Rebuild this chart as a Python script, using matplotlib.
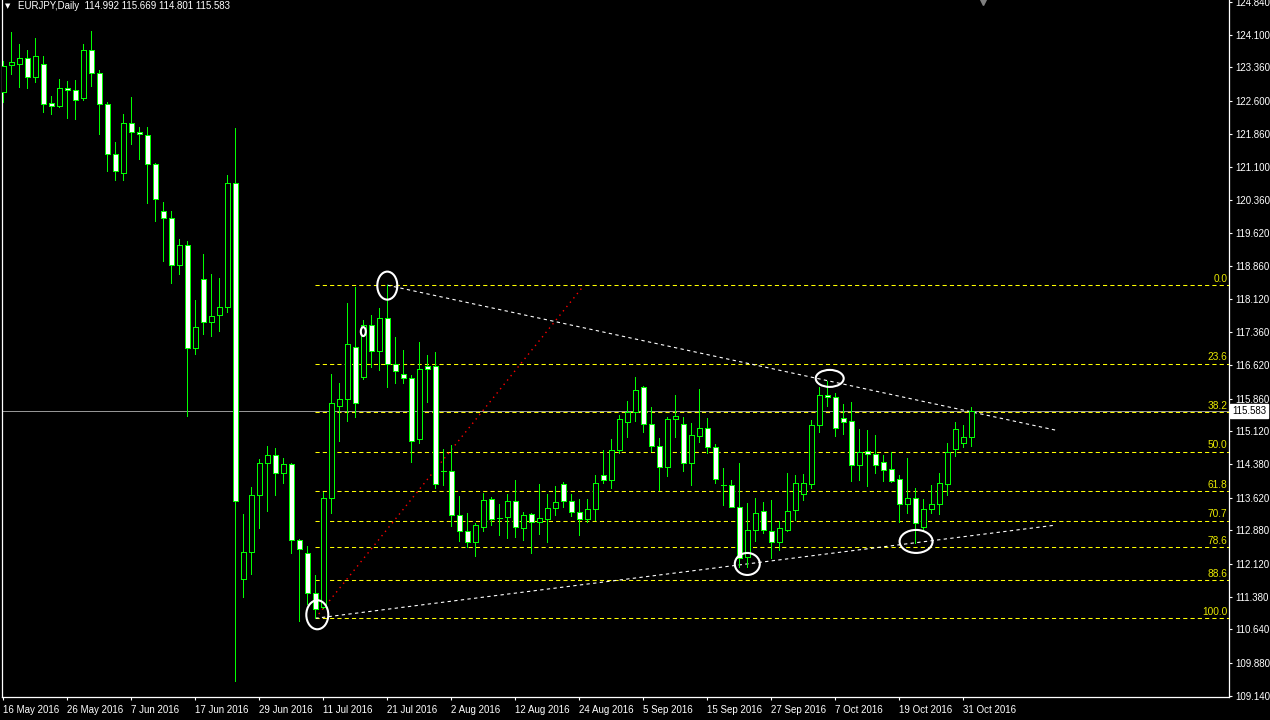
import matplotlib
matplotlib.use("Agg")
import matplotlib.pyplot as plt
from matplotlib.patches import Ellipse
from matplotlib.transforms import blended_transform_factory
import numpy as np

plt.rcParams['font.family'] = ['Liberation Sans', 'DejaVu Sans']

# ---------------------------------------------------------------- data
symbol = "EURJPY,Daily"

opens = [122.81, 123.41, 123.44, 123.57, 123.15, 123.43, 122.55, 122.49, 122.89, 122.84,
         122.67, 123.75, 123.24, 122.52, 121.39, 120.96, 122.09, 121.90, 121.84, 121.18,
         120.12, 119.94, 118.88, 119.33, 117.00, 118.58, 117.59, 117.75, 117.93, 120.75,
         111.78, 112.40, 113.68, 114.41, 114.58, 114.17, 114.38, 112.66, 112.37, 111.46,
         111.15, 113.62, 115.70, 115.85, 117.04, 116.36, 117.54, 116.93, 117.68, 116.64,
         116.41, 116.32, 114.94, 116.60, 116.60, 114.22, 114.22, 113.22, 112.86, 112.61,
         112.96, 113.58, 113.15, 113.19, 113.54, 112.93, 113.24, 113.08, 113.13, 113.38,
         113.93, 113.54, 113.30, 113.13, 113.36, 114.13, 114.01, 114.70, 115.34, 115.57,
         116.12, 115.29, 114.80, 114.32, 115.39, 115.29, 114.41, 115.02, 115.19, 114.76,
         113.91, 113.90, 113.41, 112.27, 112.88, 113.33, 112.86, 112.61, 112.90, 113.34,
         113.70, 113.92, 115.26, 115.94, 115.89, 115.42, 115.35, 114.35, 114.67, 114.60,
         114.42, 114.26, 114.04, 113.47, 113.61, 112.96, 113.36, 113.47, 113.92, 114.72,
         114.85, 114.992]
highs = [123.50, 124.15, 123.89, 123.75, 124.02, 123.62, 122.71, 123.10, 123.05, 123.07,
         123.89, 124.18, 123.30, 122.58, 121.68, 122.30, 122.69, 122.00, 122.00, 121.20,
         120.31, 120.11, 119.48, 119.43, 118.09, 119.13, 118.68, 118.59, 120.93, 121.99,
         113.25, 113.86, 114.50, 114.79, 114.74, 114.51, 114.41, 112.68, 112.53, 111.87,
         113.76, 116.41, 116.21, 118.03, 118.38, 117.64, 117.76, 117.91, 118.43, 117.26,
         116.96, 116.40, 117.14, 116.85, 116.92, 114.72, 114.81, 113.66, 113.27, 113.04,
         113.73, 113.64, 113.48, 113.70, 114.02, 113.30, 113.27, 113.93, 113.70, 113.88,
         113.98, 113.70, 113.58, 113.58, 114.13, 114.70, 114.95, 115.49, 115.81, 116.36,
         116.15, 115.68, 114.96, 115.45, 115.94, 115.45, 115.30, 116.08, 115.42, 114.84,
         114.29, 114.02, 114.40, 113.49, 113.61, 113.52, 113.57, 113.10, 114.17, 114.13,
         114.16, 115.38, 116.12, 116.27, 115.98, 115.73, 115.78, 115.17, 115.15, 115.04,
         114.59, 114.66, 114.13, 114.51, 113.83, 113.58, 113.90, 114.19, 114.85, 115.33,
         115.27, 115.669]
lows = [122.58, 123.21, 122.92, 122.90, 123.04, 122.36, 122.30, 122.47, 122.22, 122.19,
        122.62, 122.94, 121.85, 121.02, 120.80, 120.80, 121.63, 121.29, 120.29, 119.89,
        118.98, 118.49, 118.69, 115.48, 116.88, 117.33, 117.29, 117.40, 117.83, 109.46,
        111.37, 111.90, 112.93, 113.33, 113.67, 113.95, 112.37, 110.83, 111.21, 110.89,
        111.13, 113.27, 114.91, 115.36, 115.45, 116.30, 116.57, 116.51, 116.13, 116.21,
        116.21, 114.43, 114.86, 115.79, 113.85, 113.91, 112.98, 112.65, 112.50, 112.30,
        112.87, 113.00, 112.78, 112.70, 112.72, 112.66, 112.36, 112.80, 112.62, 113.23,
        113.40, 113.21, 112.78, 113.08, 113.12, 113.95, 113.85, 114.63, 115.00, 115.36,
        115.11, 114.68, 113.79, 114.11, 115.00, 114.23, 113.91, 114.89, 114.63, 113.95,
        113.45, 113.40, 112.06, 112.06, 112.65, 112.81, 112.25, 112.44, 112.87, 113.12,
        113.57, 113.85, 115.11, 115.70, 115.02, 115.06, 114.00, 114.02, 113.88, 114.17,
        114.00, 113.98, 113.08, 113.27, 112.60, 112.87, 113.28, 113.25, 113.68, 114.57,
        114.77, 114.801]
closes = [123.39, 123.48, 123.57, 123.15, 123.61, 122.54, 122.49, 122.89, 122.84, 122.63,
          123.75, 123.24, 122.52, 121.39, 121.02, 122.09, 121.90, 121.86, 121.18, 120.39,
          119.94, 118.88, 119.33, 117.00, 117.48, 117.59, 117.73, 117.93, 120.75, 113.54,
          112.40, 113.68, 114.40, 114.58, 114.17, 114.38, 112.66, 112.45, 111.46, 111.10,
          113.62, 115.76, 115.85, 117.11, 115.76, 117.54, 116.93, 117.68, 116.64, 116.48,
          116.32, 114.91, 116.53, 116.53, 113.92, 114.22, 113.22, 112.87, 112.62, 113.00,
          113.57, 113.14, 113.15, 113.54, 112.96, 113.23, 113.08, 113.15, 113.38, 113.52,
          113.55, 113.30, 113.13, 113.36, 113.95, 114.01, 114.69, 115.39, 115.57, 116.06,
          115.29, 114.79, 114.32, 115.39, 115.47, 114.41, 115.03, 115.19, 114.76, 114.04,
          113.91, 113.41, 112.25, 112.88, 113.27, 112.90, 112.61, 112.93, 113.33, 113.95,
          113.95, 115.26, 115.94, 115.89, 115.19, 115.34, 114.35, 114.65, 114.60, 114.35,
          114.24, 114.00, 113.47, 113.61, 113.04, 113.36, 113.47, 113.95, 114.66, 115.17,
          114.99, 115.583]

date_positions = [0, 8, 16, 24, 32, 40, 48, 56, 64, 72, 80, 88, 96, 104, 112, 120]
date_labels = ["16 May 2016", "26 May 2016", "7 Jun 2016", "17 Jun 2016", "29 Jun 2016",
               "11 Jul 2016", "21 Jul 2016", "2 Aug 2016", "12 Aug 2016", "24 Aug 2016",
               "5 Sep 2016", "15 Sep 2016", "27 Sep 2016", "7 Oct 2016", "19 Oct 2016",
               "31 Oct 2016"]
price_ticks = [124.84, 124.10, 123.36, 122.60, 121.86, 121.10, 120.36, 119.62, 118.86,
               118.12, 117.36, 116.62, 115.86, 115.12, 114.38, 113.62, 112.88, 112.12,
               111.38, 110.64, 109.88, 109.14]
fib_levels = [0.0, 23.6, 38.2, 50.0, 61.8, 70.7, 78.6, 88.6, 100.0]

# drawing anchors (bar indices)
fib_low_bar, fib_high_bar, fib_end_bar = 39, 48, 72.6
upper_line_bars = (48, 103)
lower_line_bars = (39, 114)
line_end_bar = 131.6
# highlight ellipses: (bar, price, width px, height px)
ellipses = [(48.0, 118.42, 20, 28), (39.25, 110.97, 22, 29), (45.0, 117.38, 5, 9),
            (103.3, 116.32, 28, 17), (93.0, 112.12, 25, 22), (114.1, 112.63, 33, 23)]

# ---------------------------------------------------------------- layout
W, H, DPI = 1270, 720, 100
GREEN = '#00ff00'
fig = plt.figure(figsize=(W / DPI, H / DPI), dpi=DPI, facecolor='black')
ax_l, ax_r, ax_b = 2, 1229, 697
ax = fig.add_axes([ax_l / W, (H - ax_b) / H, (ax_r - ax_l) / W, ax_b / H])
ax.set_facecolor('black')

bar_px = 8.0
x_min = -(3.3 - ax_l) / bar_px
x_max = x_min + (ax_r - ax_l) / bar_px
y_top, y_bot = 124.885, 109.109
ax.set_xlim(x_min, x_max)
ax.set_ylim(y_bot, y_top)
px_per_price = ax_b / (y_top - y_bot)

o = np.array(opens); h = np.array(highs); l = np.array(lows); c = np.array(closes)
idx = np.arange(len(o))
up = c > o
dn = c < o
eq = c == o
body_w = 0.56
LW = 0.5

# ---------------------------------------------------------------- candles
ax.vlines(idx, l, h, color=GREEN, lw=LW, zorder=3, antialiased=False)
bottom = np.minimum(o, c)
height = np.abs(c - o)
ax.bar(idx[up], height[up], bottom=bottom[up], width=body_w, facecolor='black',
       edgecolor=GREEN, linewidth=LW, zorder=4, antialiased=False)
ax.bar(idx[dn], height[dn], bottom=bottom[dn], width=body_w, facecolor='white',
       edgecolor=GREEN, linewidth=LW, zorder=4, antialiased=False)
ax.hlines(o[eq], idx[eq] - body_w / 2, idx[eq] + body_w / 2, color=GREEN, lw=LW,
          zorder=4, antialiased=False)

# ---------------------------------------------------------------- bid line
ax.axhline(c[-1], color='#9a9a9a', lw=0.7, zorder=2)

# ---------------------------------------------------------------- fibonacci
fib_lo = l[fib_low_bar]
fib_hi = h[fib_high_bar]
yellow = '#ffff00'
tr_lbl = blended_transform_factory(ax.transAxes, ax.transData)
for lvl in fib_levels:
    p = fib_hi - (fib_hi - fib_lo) * lvl / 100.0
    ax.hlines(p, fib_low_bar, x_max, colors=yellow, linestyles=(0, (4, 3)), lw=0.75, zorder=2)
    ax.text(1 - 1.5 / (ax_r - ax_l), p + 1.5 / px_per_price, f"{lvl:.1f}", transform=tr_lbl,
            ha='right', va='bottom', color='#e8e800', fontsize=7.3, zorder=5)
ax.plot([fib_low_bar, fib_end_bar], [fib_lo, fib_hi], color='#ff0000',
        linestyle=(0, (1, 3)), lw=1.0, zorder=2)

# ---------------------------------------------------------------- trend lines
def trend(b1, p1, b2, p2, end):
    k = (p2 - p1) / (b2 - b1)
    return [b1, end], [p1, p1 + k * (end - b1)]

ub1, ub2 = upper_line_bars
xs, ys = trend(ub1, h[ub1], ub2, h[ub2], line_end_bar)
ax.plot(xs, ys, color='white', linestyle=(0, (3, 3)), lw=0.8, zorder=2)
lb1, lb2 = lower_line_bars
xs, ys = trend(lb1, l[lb1], lb2, l[lb2], line_end_bar)
ax.plot(xs, ys, color='white', linestyle=(0, (3, 3)), lw=0.8, zorder=2)

for bx, py, wpx, hpx in ellipses:
    ax.add_patch(Ellipse((bx, py), wpx / bar_px, hpx / px_per_price, fill=False,
                         edgecolor='white', lw=1.5, zorder=6))

# ---------------------------------------------------------------- axes
ax.spines['top'].set_visible(False)
for side in ('left', 'right', 'bottom'):
    ax.spines[side].set_color('white')
    ax.spines[side].set_linewidth(0.9)

ax.yaxis.tick_right()
ax.set_yticks(price_ticks)
ax.set_yticklabels([f"{p:.3f}" for p in price_ticks])
ax.tick_params(axis='y', direction='out', length=2.5, width=0.8, colors='white',
               labelsize=7, pad=2)
ax.set_xticks(date_positions)
ax.set_xticklabels(date_labels, ha='left')
ax.tick_params(axis='x', direction='out', length=2.5, width=0.8, colors='white',
               labelsize=7, pad=3)
for t in ax.get_xticklabels():
    t.set_horizontalalignment('left')

# current price tag on the scale
ax.text(1.0 + 3.0 / (ax_r - ax_l), c[-1], f"{c[-1]:.3f}", transform=tr_lbl, ha='left',
        va='center', color='black', fontsize=7, zorder=7, clip_on=False,
        bbox=dict(facecolor='white', edgecolor='white', boxstyle='square,pad=0.2'))

# chart shift marker
ax.plot([(983 - ax_l) / (ax_r - ax_l)], [1 - 2.0 / ax_b], marker='v', color='#808080',
        markersize=4, transform=ax.transAxes, clip_on=False, zorder=7)

# header
fig.text(5 / W, 1 - 6 / H, "\u25BC", color='white', fontsize=5, va='center', ha='left',
         family=['DejaVu Sans'])
fig.text(18 / W, 1 - 6 / H,
         f"{symbol}  {o[-1]:.3f} {h[-1]:.3f} {l[-1]:.3f} {c[-1]:.3f}",
         color='white', fontsize=7, va='center', ha='left')

fig.savefig("out.png", dpi=DPI, facecolor='black')
